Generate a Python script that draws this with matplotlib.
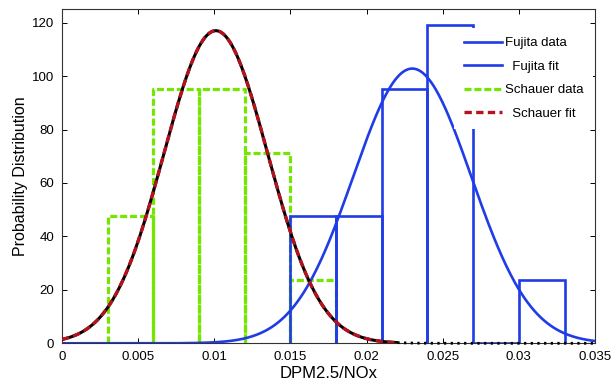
import numpy as np
import matplotlib
matplotlib.use('Agg')
import matplotlib.pyplot as plt

# ---------------- data ----------------
bin_width = 0.003
schauer_left = [0.003, 0.006, 0.009, 0.012, 0.015]
schauer_density = [47.6, 95.2, 95.2, 71.4, 23.8]
fujita_left = [0.015, 0.018, 0.021, 0.024, 0.027, 0.030]
fujita_density = [47.6, 47.6, 95.2, 119.0, 0.0, 23.8]

# normal-fit parameters (mean, std)
fujita_mu, fujita_sigma = 0.0230, 0.00388
schauer_mu, schauer_sigma = 0.0101, 0.00341
fit_range = (0.0, 0.035)
schauer_red_end = 0.022

x_ticks = [0, 0.005, 0.01, 0.015, 0.02, 0.025, 0.03, 0.035]
x_tick_labels = ['0', '0.005', '0.01', '0.015', '0.02', '0.025', '0.03', '0.035']
y_ticks = [0, 20, 40, 60, 80, 100, 120]
legend_labels = ['Fujita data', 'Fujita fit', 'Schauer data', 'Schauer fit']
x_label = 'DPM2.5/NOx'
y_label = 'Probability Distribution'

# ---------------- style ----------------
plt.rcParams['font.family'] = ['Liberation Sans', 'DejaVu Sans']
BLUE = '#1f3ce6'
GREEN = '#74e600'
RED = '#b3121e'


def normpdf(x, mu, s):
    return np.exp(-(x - mu) ** 2 / (2 * s ** 2)) / (s * np.sqrt(2 * np.pi))


fig = plt.figure(figsize=(6.13, 3.84), dpi=100)
ax = fig.add_axes([62 / 613, 1 - 343.3 / 384, 533 / 613, (343.3 - 9.3) / 384])

# Schauer data (green dashed bar outlines)
h_sd = None
for left, h in zip(schauer_left, schauer_density):
    xs = [left, left, left + bin_width, left + bin_width]
    ys = [0, h, h, 0]
    ln, = ax.plot(xs, ys, color=GREEN, lw=2.3, linestyle=(0, (2.2, 0.9)), zorder=2)
    if h_sd is None:
        h_sd = ln

# Fujita data (blue solid bar outlines)
h_fd = None
for left, h in zip(fujita_left, fujita_density):
    xs = [left, left, left + bin_width, left + bin_width]
    ys = [0, h, h, 0]
    ln, = ax.plot(xs, ys, color=BLUE, lw=1.9, solid_joinstyle='miter', zorder=3)
    if h_fd is None:
        h_fd = ln

# Fujita fit
xf = np.linspace(fit_range[0], fit_range[1], 500)
h_ff, = ax.plot(xf, normpdf(xf, fujita_mu, fujita_sigma), color=BLUE, lw=1.9, zorder=4)

# Schauer fit: black underlay (solid under the red dashes, dotted tail) + red dashes
xs_red = xf[xf <= schauer_red_end]
xs_tail = xf[xf >= schauer_red_end]
ax.plot(xs_red, normpdf(xs_red, schauer_mu, schauer_sigma), color='black', lw=2.2,
        zorder=5)
ax.plot(xs_tail, normpdf(xs_tail, schauer_mu, schauer_sigma), color='black', lw=2.0,
        linestyle=(0, (0.8, 1.6)), zorder=5, clip_on=False)
h_sf, = ax.plot(xs_red, normpdf(xs_red, schauer_mu, schauer_sigma), color=RED, lw=2.4,
                linestyle=(0, (2.2, 1.3)), zorder=6)

ax.set_xlim(0, 0.035)
ax.set_ylim(0, 125)
ax.set_xticks(x_ticks)
ax.set_xticklabels(x_tick_labels)
ax.set_yticks(y_ticks)
ax.tick_params(direction='in', length=3.5, width=0.7, top=True, right=True,
               labelsize=9.5, pad=5.5, colors='black')
for sp in ax.spines.values():
    sp.set_linewidth(0.8)
    sp.set_color('#333333')

ax.set_xlabel(x_label, fontsize=12, labelpad=2)
ax.set_ylabel(y_label, fontsize=11.5, labelpad=3)

disp_labels = [legend_labels[0], '  ' + legend_labels[1], legend_labels[2], '  ' + legend_labels[3]]
leg = ax.legend([h_fd, h_ff, h_sd, h_sf], disp_labels, loc='upper left',
                bbox_to_anchor=(0.736, 0.944), borderaxespad=0, borderpad=0.7,
                handlelength=2.9, handletextpad=0.25, labelspacing=0.85,
                fontsize=9.5, frameon=True, fancybox=False, framealpha=1,
                facecolor='white', edgecolor='none')
leg.set_zorder(10)

fig.savefig('out.png', dpi=100)
